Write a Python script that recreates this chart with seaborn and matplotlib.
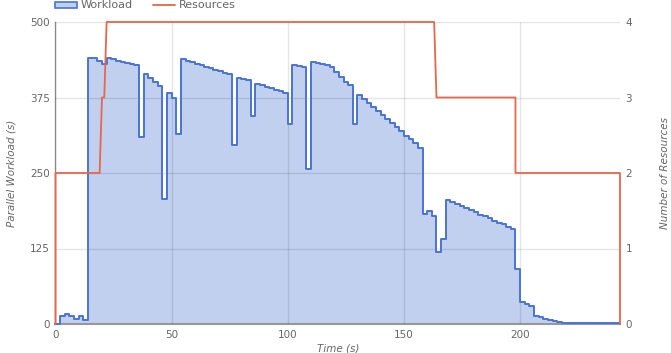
import numpy as np
import pandas as pd
import seaborn as sns
import matplotlib
matplotlib.use("Agg")
import matplotlib.pyplot as plt
from matplotlib.patches import Patch
from matplotlib.lines import Line2D

# ---- data ----
step_seconds = 2
workload = [
    0, 14, 17, 14, 8, 13, 7,
    441, 440, 436, 431,
    440, 438, 436, 434, 432, 430, 428,
    309,
    414, 407, 401, 394,
    207,
    382, 374,
    315,
    438, 436, 433, 431, 428, 426, 424, 421, 419, 416, 414,
    296,
    408, 406, 404,
    345,
    397, 395, 392, 390, 388, 385, 383,
    331,
    429, 427, 425,
    257,
    434, 432, 430, 428, 426, 418, 409, 401, 395,
    331,
    379, 372, 366, 359, 352, 346, 339, 332, 326, 319, 312, 306, 299, 292,
    182, 187, 178, 120, 140,
    205, 202, 198, 195, 192, 188, 185, 181, 178, 175, 171, 168, 165, 161, 158,
    91, 37, 33, 29,
    13, 11, 9, 7, 5, 3, 2, 2, 2,
]
end_time = 243
res_time = [0, 0, 19, 20, 21, 22, 163, 164, 198, 198, 243, 243]
res_count = [0, 2, 2, 3, 3, 4, 4, 3, 3, 2, 2, 0]

wl_time = [i * step_seconds for i in range(len(workload))] + [end_time]
wl_vals = workload + [0]
wl_df = pd.DataFrame({"time": wl_time, "workload": wl_vals})
res_df = pd.DataFrame({"time": res_time, "resources": res_count})

# ---- style ----
sns.set_theme(style="white")
plt.rcParams["font.family"] = ["DejaVu Sans"]

blue = "#3366cc"
edge = "#4a74d2"
red = "#e8664a"
txt_c = "#666666"

fig = plt.figure(figsize=(6.71, 3.53), dpi=100)
ax = fig.add_axes([55.5 / 671, 1 - 324 / 353, (620 - 55.5) / 671, (324 - 22) / 353])
ax2 = ax.twinx()

ax.fill_between(wl_df["time"], wl_df["workload"], step="post",
                color=blue, alpha=0.3, linewidth=0, zorder=1)
sns.lineplot(data=wl_df, x="time", y="workload", ax=ax, color=edge,
             drawstyle="steps-post", estimator=None, sort=False,
             linewidth=1.4, zorder=3, clip_on=False)
sns.lineplot(data=res_df, x="time", y="resources", ax=ax2, color=red,
             estimator=None, sort=False, linewidth=1.3, zorder=3, clip_on=False)

ax.set_xlim(0, end_time)
ax.set_ylim(0, 500)
ax2.set_ylim(0, 4)
ax.set_xticks([0, 50, 100, 150, 200])
ax.set_yticks([0, 125, 250, 375, 500])
ax2.set_yticks([0, 1, 2, 3, 4])

ax.grid(True, color="black", alpha=0.1, linewidth=1, zorder=2)
ax.set_axisbelow(False)
for a in (ax, ax2):
    for s in a.spines.values():
        s.set_visible(False)
    a.tick_params(length=0, labelsize=7.5, colors=txt_c, pad=4)
ax.spines["left"].set_visible(True)
ax.spines["left"].set_color("#999999")
ax.spines["bottom"].set_visible(True)
ax.spines["bottom"].set_color("#999999")
ax.spines["bottom"].set_linewidth(1.5)
ax.spines["left"].set_linewidth(1.0)

ax.set_xlabel("Time (s)", fontsize=7.5, color=txt_c, style="italic", labelpad=3)
ax.set_ylabel("Parallel Workload (s)", fontsize=7.5, color=txt_c, style="italic", labelpad=10)
ax2.set_ylabel("Number of Resources", fontsize=7.5, color=txt_c, style="italic", labelpad=20)

ax2.set_zorder(ax.get_zorder() + 1)
ax2.patch.set_visible(False)

handles = [
    Patch(facecolor=(0.2, 0.4, 0.8, 0.3), edgecolor=edge, linewidth=1.2),
    Line2D([0], [0], color=red, linewidth=1.3),
]
leg = fig.legend(handles, ["Workload", "Resources"], loc="upper left",
                 bbox_to_anchor=(55 / 671, 1 - 0.5 / 353), ncol=2, frameon=False,
                 fontsize=8, handlelength=2.0, handleheight=0.45,
                 columnspacing=1.8, handletextpad=0.35, borderaxespad=0.0,
                 borderpad=0.0)
for t in leg.get_texts():
    t.set_color(txt_c)

fig.savefig("out.png", dpi=100)
